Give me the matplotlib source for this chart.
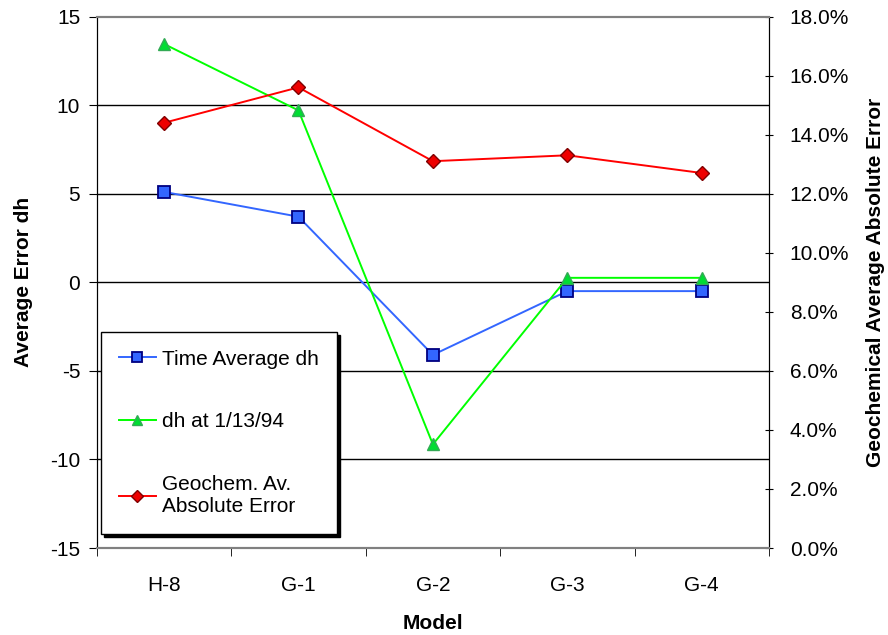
import matplotlib.pyplot as plt
from matplotlib.ticker import FuncFormatter

plt.rcParams['font.family'] = ['Liberation Sans', 'DejaVu Sans']
plt.rcParams['axes.unicode_minus'] = False

# data
models = ['H-8', 'G-1', 'G-2', 'G-3', 'G-4']
time_avg_dh = [5.1, 3.7, -4.1, -0.5, -0.5]
dh_1994 = [13.45, 9.7, -9.15, 0.25, 0.25]
geochem_err = [14.4, 15.6, 13.1, 13.3, 12.7]   # percent

fig = plt.figure(figsize=(8.88, 6.35), dpi=100)
ax = fig.add_axes([0.109, 0.137, 0.757, 0.837])
ax2 = ax.twinx()

x = range(len(models))

# left axis lines
l1, = ax.plot(x, time_avg_dh, color='#3366ff', lw=1.4, marker='s', ms=8,
              mfc='#3366ff', mec='#000080', mew=1.3, label='Time Average dh')
l2, = ax.plot(x, dh_1994, color='#00ff00', lw=1.4, marker='^', ms=9,
              mfc='#00dd33', mec='#33aa55', mew=1, label='dh at 1/13/94')

# right axis line
l3, = ax2.plot(x, geochem_err, color='#ff0000', lw=1.4, marker='D', ms=7,
               mfc='#ee0000', mec='#800000', mew=1,
               label='Geochem. Av.\nAbsolute Error')

ax.set_xlim(-0.5, len(models) - 0.5)
ax.set_ylim(-15, 15)
ax.set_yticks(range(-15, 16, 5))
ax2.set_ylim(0, 18)
ax2.set_yticks(range(0, 19, 2))
ax2.yaxis.set_major_formatter(FuncFormatter(lambda v, p: f'{v:.1f}%'))

# gridlines
for v in [-10, -5, 0, 5, 10]:
    ax.axhline(v, color='black', lw=1, zorder=0)

ax.set_xticks(list(x))
ax.set_xticklabels(models)
ax.set_xticks([i - 0.5 for i in range(len(models) + 1)], minor=True)
ax.tick_params(axis='x', which='major', length=0, pad=20, labelsize=15)
ax.tick_params(axis='x', which='minor', length=6, direction='out')
ax.tick_params(axis='y', length=6, direction='out', labelsize=15, pad=6)
ax2.tick_params(axis='y', length=6, direction='inout', labelsize=15, pad=12)

for a in (ax, ax2):
    a.spines['top'].set_color('#808080')
    a.spines['top'].set_linewidth(1.5)
    a.spines['bottom'].set_color('#808080')
    a.spines['bottom'].set_linewidth(1.5)

ax.set_xlabel('Model', fontsize=15, fontweight='bold', labelpad=14)
ax.set_ylabel('Average Error dh', fontsize=15, fontweight='bold', labelpad=12)
ax2.set_ylabel('Geochemical Average Absolute Error', fontsize=15,
               fontweight='bold', labelpad=12)

leg = ax2.legend(handles=[l1, l2, l3], loc='upper left',
                 bbox_to_anchor=(0.1137, 0.4772), bbox_transform=fig.transFigure,
                 borderaxespad=0, fontsize=15, frameon=True, fancybox=False,
                 edgecolor='black', framealpha=1, labelspacing=2.1,
                 borderpad=0.85, handlelength=1.8, handletextpad=0.3,
                 markerscale=0.85, shadow={'color': 'black', 'alpha': 1})
leg.get_frame().set_linewidth(1)

fig.savefig('out.png', dpi=100)
